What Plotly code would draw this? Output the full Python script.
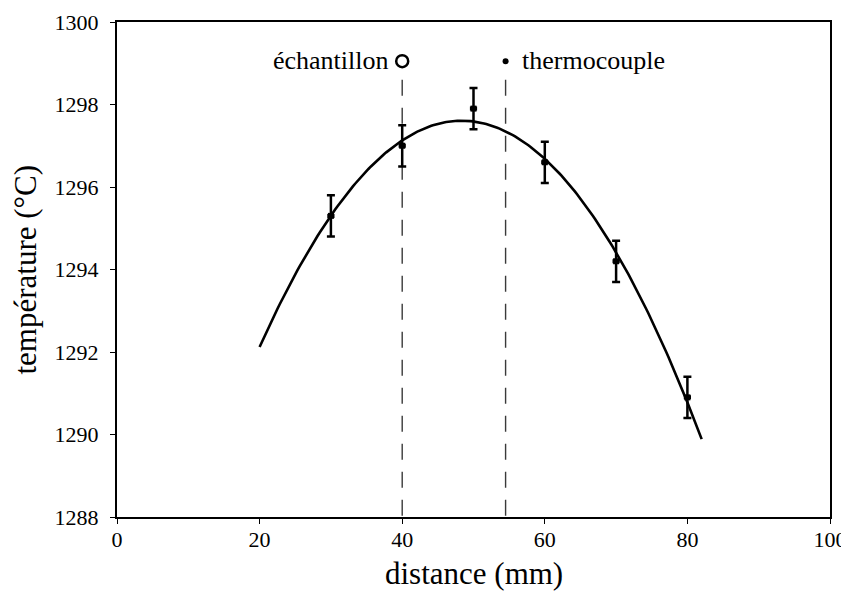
import numpy as np
import plotly.graph_objects as go

distance = [30, 40, 50, 60, 70, 80]
temperature = [1295.3, 1297.0, 1297.9, 1296.6, 1294.2, 1290.9]
err_y = [0.5, 0.5, 0.5, 0.5, 0.5, 0.5]
err_x = [0.4, 0.4, 0.4, 0.4, 0.4, 0.4]
fit_range = [20, 82]

sample_x = 40
thermo_x = 54.5
marker_y = 1299.05
dash_top = 1298.6

x_ticks = [0, 20, 40, 60, 80, 100]
y_ticks = [1288, 1290, 1292, 1294, 1296, 1298, 1300]

FONT = "Liberation Serif, Times New Roman, serif"

coef = np.polyfit(distance, temperature, 2)
xf = np.linspace(fit_range[0], fit_range[1], 200)
yf = np.polyval(coef, xf)

fig = go.Figure()
for xv in [sample_x, thermo_x]:
    fig.add_trace(go.Scatter(x=[xv, xv], y=[dash_top, y_ticks[0]], mode="lines",
                             line=dict(color="#3a3a3a", width=1.4, dash="16px,12px"),
                             hoverinfo="skip"))
fig.add_trace(go.Scatter(x=xf, y=yf, mode="lines",
                         line=dict(color="black", width=2.6), hoverinfo="skip"))
fig.add_trace(go.Scatter(
    x=distance, y=temperature, mode="markers",
    marker=dict(symbol="square", size=6, color="black"),
    error_y=dict(type="data", array=err_y, color="black", thickness=2.5, width=4),
    error_x=dict(type="data", array=err_x, color="black", thickness=1.5, width=2),
))
fig.add_trace(go.Scatter(x=[sample_x], y=[marker_y], mode="markers",
                         marker=dict(symbol="circle-open", size=12, color="black",
                                     line=dict(width=2.5, color="black"))))
fig.add_trace(go.Scatter(x=[thermo_x], y=[marker_y], mode="markers",
                         marker=dict(symbol="circle", size=6, color="black")))

fig.add_annotation(x=sample_x, y=marker_y, text="échantillon", showarrow=False,
                   xanchor="right", yanchor="middle", xshift=-11, yshift=1,
                   font=dict(family=FONT, size=26, color="black"))
fig.add_annotation(x=thermo_x, y=marker_y, text="thermocouple", showarrow=False,
                   xanchor="left", yanchor="middle", xshift=14, yshift=1,
                   font=dict(family=FONT, size=26, color="black"))
fig.add_annotation(xref="paper", yref="paper", x=0.5, y=0, text="distance (mm)",
                   showarrow=False, xanchor="center", yanchor="bottom", yshift=-76,
                   font=dict(family=FONT, size=31, color="black"))
fig.add_annotation(xref="paper", yref="paper", x=0, y=0.5, text="température (°C)",
                   showarrow=False, xanchor="center", yanchor="middle", xshift=-92,
                   textangle=-90, font=dict(family=FONT, size=31, color="black"))

axis_common = dict(showgrid=False, zeroline=False, showline=True, linecolor="black",
                   linewidth=2, mirror=True, ticks="outside", ticklen=5, tickwidth=1,
                   tickcolor="black", automargin=False, ticklabeloverflow="allow",
                   tickfont=dict(family=FONT, size=22, color="black"))
fig.update_layout(
    width=833, height=583,
    margin=dict(l=109, r=11, t=14, b=74),
    plot_bgcolor="white", paper_bgcolor="white",
    showlegend=False,
    xaxis=dict(range=[0, 100], tickvals=x_ticks, ticklabelstandoff=-3, **axis_common),
    yaxis=dict(range=[1288, 1300], tickvals=y_ticks, ticklabelstandoff=7, **axis_common),
)
fig.write_html("out.html")
